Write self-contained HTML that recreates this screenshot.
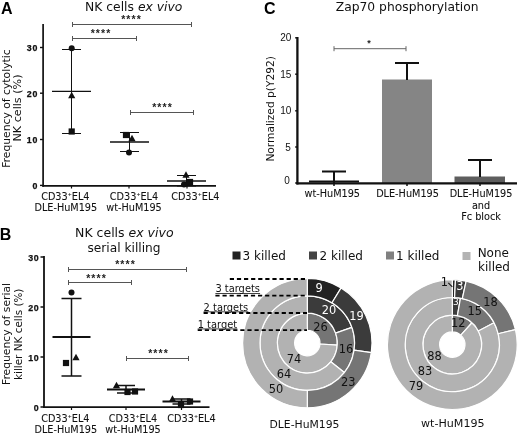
<!DOCTYPE html>
<html><head><meta charset="utf-8"><title>Figure</title>
<style>html,body{margin:0;padding:0;background:#fff;}svg{display:block;}</style></head><body>
<svg width="520" height="435" viewBox="0 0 520 435">
<rect width="520" height="435" fill="#fff"/>
<g id="panelA">
<text x="0.9" y="13.8" font-size="16" text-anchor="start" fill="#000" font-weight="bold" font-family='"Liberation Sans","DejaVu Sans",sans-serif' >A</text>
<text x="133.7" y="11" font-size="12.35" text-anchor="middle" fill="#111" font-family='"DejaVu Sans","Liberation Sans",sans-serif'>NK cells <tspan font-style="italic">ex vivo</tspan></text>
<line x1="43.1" y1="24" x2="43.1" y2="186.7" stroke="#111" stroke-width="1.7" />
<line x1="42.3" y1="185.8" x2="216" y2="185.8" stroke="#111" stroke-width="1.8" />
<line x1="40" y1="47.5" x2="43" y2="47.5" stroke="#111" stroke-width="1.4" />
<text x="38" y="51.0" font-size="8.8" text-anchor="end" fill="#111" font-weight="bold" font-family='"Liberation Sans","DejaVu Sans",sans-serif' letter-spacing="0.7" stroke="#111" stroke-width="0.25">30</text>
<line x1="40" y1="93.2" x2="43" y2="93.2" stroke="#111" stroke-width="1.4" />
<text x="38" y="96.7" font-size="8.8" text-anchor="end" fill="#111" font-weight="bold" font-family='"Liberation Sans","DejaVu Sans",sans-serif' letter-spacing="0.7" stroke="#111" stroke-width="0.25">20</text>
<line x1="40" y1="139.5" x2="43" y2="139.5" stroke="#111" stroke-width="1.4" />
<text x="38" y="143.0" font-size="8.8" text-anchor="end" fill="#111" font-weight="bold" font-family='"Liberation Sans","DejaVu Sans",sans-serif' letter-spacing="0.7" stroke="#111" stroke-width="0.25">10</text>
<line x1="40" y1="185.4" x2="43" y2="185.4" stroke="#111" stroke-width="1.4" />
<text x="38" y="188.9" font-size="8.8" text-anchor="end" fill="#111" font-weight="bold" font-family='"Liberation Sans","DejaVu Sans",sans-serif' letter-spacing="0.7" stroke="#111" stroke-width="0.25">0</text>
<line x1="71.5" y1="185" x2="71.5" y2="188.5" stroke="#111" stroke-width="1.2" />
<line x1="129" y1="185" x2="129" y2="188.5" stroke="#111" stroke-width="1.2" />
<line x1="187" y1="185" x2="187" y2="188.5" stroke="#111" stroke-width="1.2" />
<text transform="translate(9.8,108.6) rotate(-90)" font-size="10.2" textLength="118.5" lengthAdjust="spacingAndGlyphs" text-anchor="middle" fill="#111" font-family='"DejaVu Sans","Liberation Sans",sans-serif'>Frequency of cytolytic</text>
<text transform="translate(20.8,108) rotate(-90)" font-size="10.2" textLength="67" lengthAdjust="spacingAndGlyphs" text-anchor="middle" fill="#111" font-family='"DejaVu Sans","Liberation Sans",sans-serif'>NK cells (%)</text>
<line x1="71.5" y1="49.5" x2="71.5" y2="133.5" stroke="#111" stroke-width="1" />
<line x1="62.0" y1="49.5" x2="81.0" y2="49.5" stroke="#111" stroke-width="1" />
<line x1="62.0" y1="133.5" x2="81.0" y2="133.5" stroke="#111" stroke-width="1" />
<line x1="52.0" y1="91.3" x2="91.0" y2="91.3" stroke="#111" stroke-width="1.3" />
<circle cx="71.7" cy="48.2" r="3" fill="#111"/>
<polygon points="71.7,91.75 75.3,98.25 68.10000000000001,98.25" fill="#111"/>
<rect x="68.60000000000001" y="128.4" width="6.2" height="6.2" fill="#111"/>
<line x1="129.5" y1="132.5" x2="129.5" y2="151.5" stroke="#111" stroke-width="1" />
<line x1="120.0" y1="132.5" x2="139.0" y2="132.5" stroke="#111" stroke-width="1" />
<line x1="120.0" y1="151.5" x2="139.0" y2="151.5" stroke="#111" stroke-width="1" />
<line x1="110.0" y1="142" x2="149.0" y2="142" stroke="#111" stroke-width="1.3" />
<rect x="122.9" y="131.9" width="6.2" height="6.2" fill="#111"/>
<polygon points="132,134.75 135.6,141.25 128.4,141.25" fill="#111"/>
<circle cx="129" cy="152.5" r="3" fill="#111"/>
<line x1="186.5" y1="175.5" x2="186.5" y2="186" stroke="#111" stroke-width="1" />
<line x1="177.0" y1="175.5" x2="196.0" y2="175.5" stroke="#111" stroke-width="1" />
<line x1="177.0" y1="186" x2="196.0" y2="186" stroke="#111" stroke-width="1" />
<line x1="167.0" y1="181" x2="206.0" y2="181" stroke="#111" stroke-width="1.3" />
<polygon points="186,171.25 189.6,177.75 182.4,177.75" fill="#111"/>
<rect x="186.9" y="178.9" width="6.2" height="6.2" fill="#111"/>
<circle cx="184" cy="184.5" r="3" fill="#111"/>
<line x1="72.5" y1="24.5" x2="191.5" y2="24.5" stroke="#555" stroke-width="1" />
<line x1="72.5" y1="22.0" x2="72.5" y2="27.0" stroke="#555" stroke-width="1" />
<line x1="191.5" y1="22.0" x2="191.5" y2="27.0" stroke="#555" stroke-width="1" />
<text x="131.5" y="22.9" font-size="10.5" text-anchor="middle" fill="#222" font-weight="bold" font-family='"Liberation Sans","DejaVu Sans",sans-serif' letter-spacing="1.1">****</text>
<line x1="72.5" y1="38.5" x2="136.5" y2="38.5" stroke="#555" stroke-width="1" />
<line x1="72.5" y1="36.0" x2="72.5" y2="41.0" stroke="#555" stroke-width="1" />
<line x1="136.5" y1="36.0" x2="136.5" y2="41.0" stroke="#555" stroke-width="1" />
<text x="101" y="37.3" font-size="10.5" text-anchor="middle" fill="#222" font-weight="bold" font-family='"Liberation Sans","DejaVu Sans",sans-serif' letter-spacing="1.1">****</text>
<line x1="130.5" y1="112.5" x2="193.5" y2="112.5" stroke="#555" stroke-width="1" />
<line x1="130.5" y1="110.0" x2="130.5" y2="115.0" stroke="#555" stroke-width="1" />
<line x1="193.5" y1="110.0" x2="193.5" y2="115.0" stroke="#555" stroke-width="1" />
<text x="162.5" y="110.6" font-size="10.5" text-anchor="middle" fill="#222" font-weight="bold" font-family='"Liberation Sans","DejaVu Sans",sans-serif' letter-spacing="1.1">****</text>
<text x="65.3" y="199.6" font-size="9.7" text-anchor="middle" fill="#111" stroke="#111" stroke-width="0.08" font-family='"DejaVu Sans","Liberation Sans",sans-serif'>CD33<tspan font-size="4.85" dy="-3.4">+</tspan><tspan dy="3.4">EL4</tspan></text>
<text x="65.8" y="211.4" font-size="9.7" text-anchor="middle" fill="#111" font-weight="normal" font-family='"DejaVu Sans","Liberation Sans",sans-serif' stroke="#111" stroke-width="0.08">DLE-HuM195</text>
<text x="134" y="199.6" font-size="9.7" text-anchor="middle" fill="#111" stroke="#111" stroke-width="0.08" font-family='"DejaVu Sans","Liberation Sans",sans-serif'>CD33<tspan font-size="4.85" dy="-3.4">+</tspan><tspan dy="3.4">EL4</tspan></text>
<text x="134" y="211.4" font-size="9.7" text-anchor="middle" fill="#111" font-weight="normal" font-family='"DejaVu Sans","Liberation Sans",sans-serif' stroke="#111" stroke-width="0.08">wt-HuM195</text>
<text x="195.3" y="199.6" font-size="9.7" text-anchor="middle" fill="#111" stroke="#111" stroke-width="0.08" font-family='"DejaVu Sans","Liberation Sans",sans-serif'>CD33<tspan font-size="4.85" dy="-3.4">+</tspan><tspan dy="3.4">EL4</tspan></text>
</g>
<g id="panelB">
<text x="-0.3" y="240.3" font-size="16" text-anchor="start" fill="#000" font-weight="bold" font-family='"Liberation Sans","DejaVu Sans",sans-serif' >B</text>
<text x="124.3" y="236.7" font-size="12.5" text-anchor="middle" fill="#111" font-family='"DejaVu Sans","Liberation Sans",sans-serif'>NK cells <tspan font-style="italic">ex vivo</tspan></text>
<text x="124" y="252" font-size="12.2" text-anchor="middle" fill="#111" font-weight="normal" font-family='"DejaVu Sans","Liberation Sans",sans-serif' >serial killing</text>
<line x1="44" y1="256" x2="44" y2="408" stroke="#111" stroke-width="1.8" />
<line x1="43.1" y1="407.1" x2="209.5" y2="407.1" stroke="#111" stroke-width="1.8" />
<line x1="40.5" y1="257" x2="44" y2="257" stroke="#111" stroke-width="1.5" />
<text x="39.4" y="260.9" font-size="8.8" text-anchor="end" fill="#111" font-weight="bold" font-family='"Liberation Sans","DejaVu Sans",sans-serif' letter-spacing="0.7" stroke="#111" stroke-width="0.25">30</text>
<line x1="40.5" y1="307" x2="44" y2="307" stroke="#111" stroke-width="1.5" />
<text x="39.4" y="310.9" font-size="8.8" text-anchor="end" fill="#111" font-weight="bold" font-family='"Liberation Sans","DejaVu Sans",sans-serif' letter-spacing="0.7" stroke="#111" stroke-width="0.25">20</text>
<line x1="40.5" y1="357" x2="44" y2="357" stroke="#111" stroke-width="1.5" />
<text x="39.4" y="360.9" font-size="8.8" text-anchor="end" fill="#111" font-weight="bold" font-family='"Liberation Sans","DejaVu Sans",sans-serif' letter-spacing="0.7" stroke="#111" stroke-width="0.25">10</text>
<line x1="40.5" y1="407" x2="44" y2="407" stroke="#111" stroke-width="1.5" />
<text x="39.4" y="410.9" font-size="8.8" text-anchor="end" fill="#111" font-weight="bold" font-family='"Liberation Sans","DejaVu Sans",sans-serif' letter-spacing="0.7" stroke="#111" stroke-width="0.25">0</text>
<line x1="71.5" y1="407" x2="71.5" y2="410" stroke="#111" stroke-width="1.2" />
<line x1="126" y1="407" x2="126" y2="410" stroke="#111" stroke-width="1.2" />
<line x1="181.5" y1="407" x2="181.5" y2="410" stroke="#111" stroke-width="1.2" />
<text transform="translate(9.9,334) rotate(-90)" font-size="10.3" textLength="102" lengthAdjust="spacingAndGlyphs" text-anchor="middle" fill="#111" font-family='"DejaVu Sans","Liberation Sans",sans-serif'>Frequency of serial</text>
<text transform="translate(21.8,334.3) rotate(-90)" font-size="10.3" textLength="91.5" lengthAdjust="spacingAndGlyphs" text-anchor="middle" fill="#111" font-family='"DejaVu Sans","Liberation Sans",sans-serif'>killer NK cells (%)</text>
<line x1="71.5" y1="298.5" x2="71.5" y2="376" stroke="#111" stroke-width="1.5" />
<line x1="61.5" y1="298.5" x2="81.5" y2="298.5" stroke="#111" stroke-width="1.5" />
<line x1="61.5" y1="376" x2="81.5" y2="376" stroke="#111" stroke-width="1.5" />
<line x1="52.5" y1="337" x2="90.5" y2="337" stroke="#111" stroke-width="1.9500000000000002" />
<circle cx="71.5" cy="292.5" r="3" fill="#111"/>
<rect x="62.9" y="359.9" width="6.2" height="6.2" fill="#111"/>
<polygon points="76,353.75 79.6,360.25 72.4,360.25" fill="#111"/>
<line x1="126" y1="385.5" x2="126" y2="393" stroke="#111" stroke-width="1.5" />
<line x1="117.0" y1="385.5" x2="135.0" y2="385.5" stroke="#111" stroke-width="1.5" />
<line x1="117.0" y1="393" x2="135.0" y2="393" stroke="#111" stroke-width="1.5" />
<line x1="107.0" y1="389.5" x2="145.0" y2="389.5" stroke="#111" stroke-width="1.9500000000000002" />
<polygon points="116.5,381.75 120.1,388.25 112.9,388.25" fill="#111"/>
<rect x="124.4" y="388.9" width="6.2" height="6.2" fill="#111"/>
<rect x="131.9" y="388.4" width="6.2" height="6.2" fill="#111"/>
<line x1="181.5" y1="399" x2="181.5" y2="404" stroke="#111" stroke-width="1.5" />
<line x1="172.5" y1="399" x2="190.5" y2="399" stroke="#111" stroke-width="1.5" />
<line x1="172.5" y1="404" x2="190.5" y2="404" stroke="#111" stroke-width="1.5" />
<line x1="162.5" y1="401.5" x2="200.5" y2="401.5" stroke="#111" stroke-width="1.9500000000000002" />
<polygon points="172.5,395.25 176.1,401.75 168.9,401.75" fill="#111"/>
<rect x="177.9" y="401.9" width="6.2" height="6.2" fill="#111"/>
<rect x="186.9" y="398.4" width="6.2" height="6.2" fill="#111"/>
<line x1="68.5" y1="269.5" x2="186.5" y2="269.5" stroke="#555" stroke-width="1" />
<line x1="68.5" y1="267.0" x2="68.5" y2="272.0" stroke="#555" stroke-width="1" />
<line x1="186.5" y1="267.0" x2="186.5" y2="272.0" stroke="#555" stroke-width="1" />
<text x="125.5" y="268.2" font-size="10.5" text-anchor="middle" fill="#222" font-weight="bold" font-family='"Liberation Sans","DejaVu Sans",sans-serif' letter-spacing="1.1">****</text>
<line x1="68.5" y1="282.5" x2="131.5" y2="282.5" stroke="#555" stroke-width="1" />
<line x1="68.5" y1="280.0" x2="68.5" y2="285.0" stroke="#555" stroke-width="1" />
<line x1="131.5" y1="280.0" x2="131.5" y2="285.0" stroke="#555" stroke-width="1" />
<text x="96.5" y="282.2" font-size="10.5" text-anchor="middle" fill="#222" font-weight="bold" font-family='"Liberation Sans","DejaVu Sans",sans-serif' letter-spacing="1.1">****</text>
<line x1="126.5" y1="358.5" x2="188.5" y2="358.5" stroke="#555" stroke-width="1" />
<line x1="126.5" y1="356.0" x2="126.5" y2="361.0" stroke="#555" stroke-width="1" />
<line x1="188.5" y1="356.0" x2="188.5" y2="361.0" stroke="#555" stroke-width="1" />
<text x="158.5" y="356.7" font-size="10.5" text-anchor="middle" fill="#222" font-weight="bold" font-family='"Liberation Sans","DejaVu Sans",sans-serif' letter-spacing="1.1">****</text>
<text x="65.3" y="421.8" font-size="9.7" text-anchor="middle" fill="#111" stroke="#111" stroke-width="0.08" font-family='"DejaVu Sans","Liberation Sans",sans-serif'>CD33<tspan font-size="4.85" dy="-3.4">+</tspan><tspan dy="3.4">EL4</tspan></text>
<text x="65.8" y="433.4" font-size="9.7" text-anchor="middle" fill="#111" font-weight="normal" font-family='"DejaVu Sans","Liberation Sans",sans-serif' stroke="#111" stroke-width="0.08">DLE-HuM195</text>
<text x="133" y="421.8" font-size="9.7" text-anchor="middle" fill="#111" stroke="#111" stroke-width="0.08" font-family='"DejaVu Sans","Liberation Sans",sans-serif'>CD33<tspan font-size="4.85" dy="-3.4">+</tspan><tspan dy="3.4">EL4</tspan></text>
<text x="133" y="433.4" font-size="9.7" text-anchor="middle" fill="#111" font-weight="normal" font-family='"DejaVu Sans","Liberation Sans",sans-serif' stroke="#111" stroke-width="0.08">wt-HuM195</text>
<text x="191.5" y="421.8" font-size="9.7" text-anchor="middle" fill="#111" stroke="#111" stroke-width="0.08" font-family='"DejaVu Sans","Liberation Sans",sans-serif'>CD33<tspan font-size="4.85" dy="-3.4">+</tspan><tspan dy="3.4">EL4</tspan></text>
</g>
<g id="panelC">
<text x="264.1" y="14" font-size="16" text-anchor="start" fill="#000" font-weight="bold" font-family='"Liberation Sans","DejaVu Sans",sans-serif' >C</text>
<text x="407.2" y="10.5" font-size="12.3" text-anchor="middle" fill="#111" font-weight="normal" font-family='"DejaVu Sans","Liberation Sans",sans-serif' >Zap70 phosphorylation</text>
<rect x="382" y="79.5" width="50" height="103.5" fill="#858585"/>
<rect x="454.5" y="176.5" width="50.5" height="6.5" fill="#5e5e5e"/>
<line x1="309" y1="181.5" x2="359" y2="181.5" stroke="#111" stroke-width="2" />
<line x1="334" y1="171.5" x2="334" y2="183" stroke="#111" stroke-width="2" />
<line x1="322.0" y1="171.5" x2="346.0" y2="171.5" stroke="#111" stroke-width="2" />
<line x1="407" y1="63" x2="407" y2="80" stroke="#111" stroke-width="2" />
<line x1="395.0" y1="63" x2="419.0" y2="63" stroke="#111" stroke-width="2" />
<line x1="480" y1="160" x2="480" y2="177" stroke="#111" stroke-width="2" />
<line x1="468.0" y1="160" x2="492.0" y2="160" stroke="#111" stroke-width="2" />
<line x1="297.4" y1="37" x2="297.4" y2="184.5" stroke="#111" stroke-width="2.3" />
<line x1="296.4" y1="183.4" x2="517" y2="183.4" stroke="#111" stroke-width="2.3" />
<line x1="295.2" y1="37.8" x2="297.5" y2="37.8" stroke="#111" stroke-width="1.5" />
<text x="291.3" y="41.4" font-size="10" text-anchor="end" fill="#111" font-weight="normal" font-family='"Liberation Sans","DejaVu Sans",sans-serif' >20</text>
<line x1="295.2" y1="74.2" x2="297.5" y2="74.2" stroke="#111" stroke-width="1.5" />
<text x="291.3" y="77.8" font-size="10" text-anchor="end" fill="#111" font-weight="normal" font-family='"Liberation Sans","DejaVu Sans",sans-serif' >15</text>
<line x1="295.2" y1="110.8" x2="297.5" y2="110.8" stroke="#111" stroke-width="1.5" />
<text x="291.3" y="114.39999999999999" font-size="10" text-anchor="end" fill="#111" font-weight="normal" font-family='"Liberation Sans","DejaVu Sans",sans-serif' >10</text>
<line x1="295.2" y1="147" x2="297.5" y2="147" stroke="#111" stroke-width="1.5" />
<text x="290.7" y="150.6" font-size="10" text-anchor="end" fill="#111" font-weight="normal" font-family='"Liberation Sans","DejaVu Sans",sans-serif' >5</text>
<line x1="295.2" y1="183" x2="297.5" y2="183" stroke="#111" stroke-width="1.5" />
<text x="289.8" y="184.2" font-size="10" text-anchor="end" fill="#111" font-weight="normal" font-family='"Liberation Sans","DejaVu Sans",sans-serif' >0</text>
<line x1="334" y1="183" x2="334" y2="186" stroke="#111" stroke-width="1.5" />
<line x1="407" y1="183" x2="407" y2="186" stroke="#111" stroke-width="1.5" />
<line x1="480" y1="183" x2="480" y2="186" stroke="#111" stroke-width="1.5" />
<text transform="translate(273.6,108.9) rotate(-90)" font-size="10.3" textLength="105.4" lengthAdjust="spacingAndGlyphs" text-anchor="middle" fill="#111" font-family='"DejaVu Sans","Liberation Sans",sans-serif'>Normalized p(Y292)</text>
<line x1="334" y1="48.7" x2="406" y2="48.7" stroke="#666" stroke-width="1" />
<line x1="334" y1="46.2" x2="334" y2="51.2" stroke="#666" stroke-width="1" />
<line x1="406" y1="46.2" x2="406" y2="51.2" stroke="#666" stroke-width="1" />
<text x="369" y="46" font-size="9" text-anchor="middle" fill="#222" font-weight="bold" font-family='"Liberation Sans","DejaVu Sans",sans-serif' >*</text>
<text x="332.3" y="197.2" font-size="9.7" text-anchor="middle" fill="#111" font-weight="normal" font-family='"DejaVu Sans","Liberation Sans",sans-serif' stroke="#111" stroke-width="0.08">wt-HuM195</text>
<text x="407.5" y="197.2" font-size="9.7" text-anchor="middle" fill="#111" font-weight="normal" font-family='"DejaVu Sans","Liberation Sans",sans-serif' stroke="#111" stroke-width="0.08">DLE-HuM195</text>
<text x="481" y="197.2" font-size="9.7" text-anchor="middle" fill="#111" font-weight="normal" font-family='"DejaVu Sans","Liberation Sans",sans-serif' stroke="#111" stroke-width="0.08">DLE-HuM195</text>
<text x="481" y="208.5" font-size="9.7" text-anchor="middle" fill="#111" font-weight="normal" font-family='"DejaVu Sans","Liberation Sans",sans-serif' stroke="#111" stroke-width="0.08">and</text>
<text x="481" y="220" font-size="9.7" text-anchor="middle" fill="#111" font-weight="normal" font-family='"DejaVu Sans","Liberation Sans",sans-serif' stroke="#111" stroke-width="0.08">Fc block</text>
</g>
<g id="legend">
<rect x="232.5" y="251.5" width="8" height="8" fill="#222222"/>
<text x="242.5" y="260" font-size="12" text-anchor="start" fill="#111" font-weight="normal" font-family='"DejaVu Sans","Liberation Sans",sans-serif' >3 killed</text>
<rect x="309" y="251.5" width="8" height="8" fill="#444444"/>
<text x="319.5" y="260" font-size="12" text-anchor="start" fill="#111" font-weight="normal" font-family='"DejaVu Sans","Liberation Sans",sans-serif' >2 killed</text>
<rect x="386" y="251.5" width="8" height="8" fill="#808080"/>
<text x="396" y="260" font-size="12" text-anchor="start" fill="#111" font-weight="normal" font-family='"DejaVu Sans","Liberation Sans",sans-serif' >1 killed</text>
<rect x="462.5" y="252" width="8" height="8" fill="#b3b3b3"/>
<text x="493.3" y="257" font-size="12" text-anchor="middle" fill="#111" font-weight="normal" font-family='"DejaVu Sans","Liberation Sans",sans-serif' >None</text>
<text x="494" y="271" font-size="12" text-anchor="middle" fill="#111" font-weight="normal" font-family='"DejaVu Sans","Liberation Sans",sans-serif' >killed</text>
</g>
<g id="donut1">
<path d="M307.30,313.10 A30,30 0 0 1 337.23,345.19 L319.97,343.99 A12.7,12.7 0 0 0 307.30,330.40 Z" fill="#757575" stroke="#fff" stroke-width="1.2" stroke-linejoin="round"/>
<path d="M337.23,345.19 A30,30 0 1 1 307.30,313.10 L307.30,330.40 A12.7,12.7 0 1 0 319.97,343.99 Z" fill="#b2b2b2" stroke="#fff" stroke-width="1.2" stroke-linejoin="round"/>
<path d="M307.30,295.80 A47.3,47.3 0 0 1 351.89,327.31 L335.58,333.09 A30,30 0 0 0 307.30,313.10 Z" fill="#3b3b3b" stroke="#fff" stroke-width="1.2" stroke-linejoin="round"/>
<path d="M351.89,327.31 A47.3,47.3 0 0 1 344.32,372.54 L330.78,361.78 A30,30 0 0 0 335.58,333.09 Z" fill="#757575" stroke="#fff" stroke-width="1.2" stroke-linejoin="round"/>
<path d="M344.32,372.54 A47.3,47.3 0 1 1 307.30,295.80 L307.30,313.10 A30,30 0 1 0 330.78,361.78 Z" fill="#b2b2b2" stroke="#fff" stroke-width="1.2" stroke-linejoin="round"/>
<path d="M307.30,278.40 A64.7,64.7 0 0 1 341.11,287.93 L332.01,302.77 A47.3,47.3 0 0 0 307.30,295.80 Z" fill="#232323" stroke="#fff" stroke-width="1.2" stroke-linejoin="round"/>
<path d="M341.11,287.93 A64.7,64.7 0 0 1 371.29,352.66 L354.08,350.09 A47.3,47.3 0 0 0 332.01,302.77 Z" fill="#3b3b3b" stroke="#fff" stroke-width="1.2" stroke-linejoin="round"/>
<path d="M371.29,352.66 A64.7,64.7 0 0 1 307.30,407.80 L307.30,390.40 A47.3,47.3 0 0 0 354.08,350.09 Z" fill="#757575" stroke="#fff" stroke-width="1.2" stroke-linejoin="round"/>
<path d="M307.30,407.80 A64.7,64.7 0 0 1 307.30,278.40 L307.30,295.80 A47.3,47.3 0 0 0 307.30,390.40 Z" fill="#b2b2b2" stroke="#fff" stroke-width="1.2" stroke-linejoin="round"/>
<line x1="229.8" y1="279" x2="307" y2="279" stroke="#000" stroke-width="1.8" stroke-dasharray="4.2 2.9"/>
<line x1="215.4" y1="295.7" x2="307" y2="295.7" stroke="#000" stroke-width="1.8" stroke-dasharray="4.2 2.9"/>
<line x1="203.6" y1="313" x2="307" y2="313" stroke="#000" stroke-width="1.8" stroke-dasharray="4.2 2.9"/>
<line x1="197.7" y1="330.1" x2="307" y2="330.1" stroke="#000" stroke-width="1.8" stroke-dasharray="4.2 2.9"/>
<g font-family='"DejaVu Sans","Liberation Sans",sans-serif' font-size="9.9" fill="#111">
<text x="215.4" y="292.3">3 targets</text>
<text x="203.6" y="310.6">2 targets</text>
<text x="197.7" y="327.7">1 target</text>
<line x1="215.4" y1="293.5" x2="260.1" y2="293.5" stroke="#111" stroke-width="0.8" />
<line x1="203.6" y1="311.8" x2="248.3" y2="311.8" stroke="#111" stroke-width="0.8" />
<line x1="197.7" y1="328.9" x2="237.3" y2="328.9" stroke="#111" stroke-width="0.8" />
</g>
<text x="319" y="291.804" font-size="11.4" text-anchor="middle" fill="#fff" font-weight="normal" font-family='"DejaVu Sans","Liberation Sans",sans-serif' >9</text>
<text x="329" y="314.304" font-size="11.4" text-anchor="middle" fill="#fff" font-weight="normal" font-family='"DejaVu Sans","Liberation Sans",sans-serif' >20</text>
<text x="356.5" y="320.404" font-size="11.4" text-anchor="middle" fill="#fff" font-weight="normal" font-family='"DejaVu Sans","Liberation Sans",sans-serif' >19</text>
<text x="320.5" y="330.904" font-size="11.4" text-anchor="middle" fill="#111" font-weight="normal" font-family='"DejaVu Sans","Liberation Sans",sans-serif' >26</text>
<text x="346" y="352.804" font-size="11.4" text-anchor="middle" fill="#111" font-weight="normal" font-family='"DejaVu Sans","Liberation Sans",sans-serif' >16</text>
<text x="348.3" y="386.104" font-size="11.4" text-anchor="middle" fill="#111" font-weight="normal" font-family='"DejaVu Sans","Liberation Sans",sans-serif' >23</text>
<text x="294" y="362.604" font-size="11.4" text-anchor="middle" fill="#111" font-weight="normal" font-family='"DejaVu Sans","Liberation Sans",sans-serif' >74</text>
<text x="284" y="377.604" font-size="11.4" text-anchor="middle" fill="#111" font-weight="normal" font-family='"DejaVu Sans","Liberation Sans",sans-serif' >64</text>
<text x="276" y="392.604" font-size="11.4" text-anchor="middle" fill="#111" font-weight="normal" font-family='"DejaVu Sans","Liberation Sans",sans-serif' >50</text>
<text x="304.5" y="428" font-size="10.8" text-anchor="middle" fill="#111" font-weight="normal" font-family='"DejaVu Sans","Liberation Sans",sans-serif' >DLE-HuM195</text>
</g>
<g id="donut2">
<path d="M452.30,315.20 A29.4,29.4 0 0 1 471.97,322.75 L460.80,335.16 A12.7,12.7 0 0 0 452.30,331.90 Z" fill="#757575" stroke="#fff" stroke-width="1.2" stroke-linejoin="round"/>
<path d="M471.97,322.75 A29.4,29.4 0 1 1 452.30,315.20 L452.30,331.90 A12.7,12.7 0 1 0 460.80,335.16 Z" fill="#b2b2b2" stroke="#fff" stroke-width="1.2" stroke-linejoin="round"/>
<path d="M452.30,297.50 A47.1,47.1 0 0 1 460.48,298.22 L457.41,315.65 A29.4,29.4 0 0 0 452.30,315.20 Z" fill="#3b3b3b" stroke="#fff" stroke-width="1.2" stroke-linejoin="round"/>
<path d="M460.48,298.22 A47.1,47.1 0 0 1 494.00,322.71 L478.33,330.93 A29.4,29.4 0 0 0 457.41,315.65 Z" fill="#757575" stroke="#fff" stroke-width="1.2" stroke-linejoin="round"/>
<path d="M494.00,322.71 A47.1,47.1 0 1 1 452.30,297.50 L452.30,315.20 A29.4,29.4 0 1 0 478.33,330.93 Z" fill="#b2b2b2" stroke="#fff" stroke-width="1.2" stroke-linejoin="round"/>
<path d="M452.30,279.70 A64.9,64.9 0 0 1 455.47,279.78 L454.60,297.56 A47.1,47.1 0 0 0 452.30,297.50 Z" fill="#232323" stroke="#fff" stroke-width="1.2" stroke-linejoin="round"/>
<path d="M455.47,279.78 A64.9,64.9 0 0 1 466.13,281.19 L462.33,298.58 A47.1,47.1 0 0 0 454.60,297.56 Z" fill="#3b3b3b" stroke="#fff" stroke-width="1.2" stroke-linejoin="round"/>
<path d="M466.13,281.19 A64.9,64.9 0 0 1 515.46,329.67 L498.14,333.76 A47.1,47.1 0 0 0 462.33,298.58 Z" fill="#757575" stroke="#fff" stroke-width="1.2" stroke-linejoin="round"/>
<path d="M515.46,329.67 A64.9,64.9 0 1 1 452.30,279.70 L452.30,297.50 A47.1,47.1 0 1 0 498.14,333.76 Z" fill="#b2b2b2" stroke="#fff" stroke-width="1.2" stroke-linejoin="round"/>
<text x="444.3" y="286.104" font-size="11.4" text-anchor="middle" fill="#111" font-weight="normal" font-family='"DejaVu Sans","Liberation Sans",sans-serif' >1</text>
<line x1="448.3" y1="282.8" x2="452.3" y2="286.8" stroke="#111" stroke-width="1.1" />
<text x="459.9" y="290.304" font-size="11.4" text-anchor="middle" fill="#fff" font-weight="normal" font-family='"DejaVu Sans","Liberation Sans",sans-serif' >3</text>
<text x="490.5" y="305.704" font-size="11.4" text-anchor="middle" fill="#111" font-weight="normal" font-family='"DejaVu Sans","Liberation Sans",sans-serif' >18</text>
<text x="455.9" y="305.04" font-size="9" text-anchor="middle" fill="#fff" font-weight="normal" font-family='"DejaVu Sans","Liberation Sans",sans-serif' >3</text>
<text x="474.7" y="314.904" font-size="11.4" text-anchor="middle" fill="#111" font-weight="normal" font-family='"DejaVu Sans","Liberation Sans",sans-serif' >15</text>
<text x="458.3" y="327.304" font-size="11.4" text-anchor="middle" fill="#111" font-weight="normal" font-family='"DejaVu Sans","Liberation Sans",sans-serif' >12</text>
<text x="434.5" y="359.604" font-size="11.4" text-anchor="middle" fill="#111" font-weight="normal" font-family='"DejaVu Sans","Liberation Sans",sans-serif' >88</text>
<text x="425" y="375.104" font-size="11.4" text-anchor="middle" fill="#111" font-weight="normal" font-family='"DejaVu Sans","Liberation Sans",sans-serif' >83</text>
<text x="416" y="389.604" font-size="11.4" text-anchor="middle" fill="#111" font-weight="normal" font-family='"DejaVu Sans","Liberation Sans",sans-serif' >79</text>
<text x="452.8" y="427" font-size="11.1" text-anchor="middle" fill="#111" font-weight="normal" font-family='"DejaVu Sans","Liberation Sans",sans-serif' >wt-HuM195</text>
</g>
</svg></body></html>
